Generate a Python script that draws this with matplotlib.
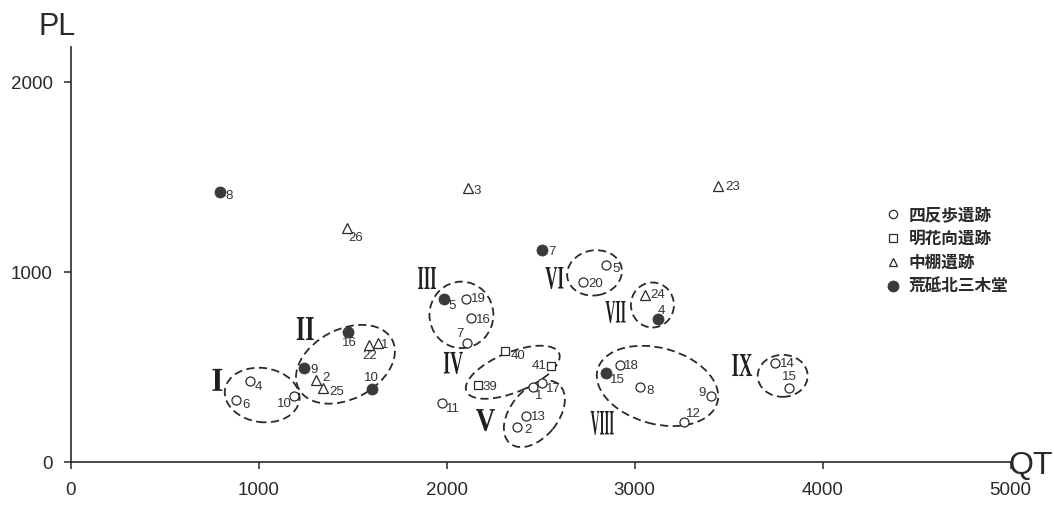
import matplotlib
matplotlib.use("Agg")
import matplotlib.pyplot as plt
import matplotlib.transforms as mtransforms
from matplotlib.patches import Ellipse, PathPatch
from matplotlib.textpath import TextPath
from matplotlib.font_manager import FontProperties
from matplotlib.lines import Line2D

# ---------------- data ----------------
# 四反歩遺跡 (open circles)
sh_no = [1, 2, 4, 5, 6, 7, 8, 9, 10, 11, 12, 13, 14, 15, 16, 17, 18, 19, 20]
sh_qt = [2460, 2374, 954, 2845, 878, 2108, 3026, 3407, 1185, 1973, 3261, 2424, 3744, 3821, 2129, 2509, 2921, 2104, 2726]
sh_pl = [398, 187, 428, 1038, 328, 630, 398, 351, 349, 311, 214, 245, 521, 393, 758, 416, 512, 858, 951]

# 明花向遺跡 (open squares)
mh_no = [39, 40, 41]
mh_qt = [2165, 2310, 2555]
mh_pl = [407, 587, 507]

# 中棚遺跡 (open triangles)
nt_no = [1, 2, 3, 22, 23, 24, 25, 26]
nt_qt = [1632, 1302, 2111, 1586, 3441, 3052, 1344, 1469]
nt_pl = [626, 432, 1444, 616, 1454, 881, 389, 1235]

# 荒砥北三木堂 (filled circles)
ar_no = [4, 5, 7, 8, 9, 10, 15, 16]
ar_qt = [3123, 1984, 2504, 794, 1243, 1602, 2845, 1476]
ar_pl = [753, 858, 1117, 1421, 495, 384, 468, 684]

legend_labels = ["四反歩遺跡", "明花向遺跡", "中棚遺跡", "荒砥北三木堂"]

# cluster groups: name, centre (QT, PL), width, height, angle
grp_names = ["I", "II", "III", "IV", "V", "VI", "VII", "VIII", "IX"]
grp_centre = [(1018, 354), (1461, 516), (2078, 776), (2351, 474), (2466, 255),
              (2786, 997), (3094, 828), (3121, 402), (3787, 455)]
grp_w = [400, 560, 340, 532, 405, 293, 229, 660, 266]
grp_h = [285, 368, 350, 211, 253, 237, 237, 400, 221]
grp_ang = [-8, 27, 0, 22, 50, 10, 0, -15, 0]
grp_label_pos = [(780, 434), (1247, 704), (1895, 970), (2035, 523), (2206, 222),
                 (2573, 970), (2898, 791), (2827, 207), (3572, 512)]

x_ticks = [0, 1000, 2000, 3000, 4000, 5000]
y_ticks = [0, 1000, 2000]

# label offsets (pixels) for point numbers
sh_off = {1: (5, -9), 2: (11, -3), 4: (8, -6), 5: (10, -4), 6: (10, -5), 7: (-7, 9), 8: (10, -4),
          9: (-9, 3), 10: (-9, -8), 11: (11, -6), 12: (10, 8), 13: (12, -1), 14: (13, -1),
          15: (0, 11), 16: (12, -2), 17: (11, -6), 18: (12, -1), 19: (12, 0), 20: (12, -2)}
mh_off = {39: (12, -2), 40: (13, -5), 41: (-12, 0)}
nt_off = {1: (7, -2), 2: (10, 2), 3: (10, -3), 22: (1, -11), 23: (15, -1), 24: (13, 0),
          25: (13, -4), 26: (9, -10)}
ar_off = {4: (4, 8), 5: (8, -7), 7: (10, -2), 8: (9, -4), 9: (10, -2), 10: (-1, 11),
          15: (12, -7), 16: (1, -11)}
roman_w = [10, 17, 18, 19, 19, 18, 20, 23, 20]
roman_h = [22, 23, 22, 22, 22, 22, 22, 24, 22]

# ---------------- figure ----------------
INK = "#2a2a2a"
fig = plt.figure(figsize=(10.54, 5.05), dpi=100)
ax = fig.add_axes([70.8 / 1054, 42.7 / 505, (1010.7 - 70.8) / 1054, 415.5 / 505])
ax.set_xlim(0, 5000)
ax.set_ylim(0, 2187)
for s in ["top", "right"]:
    ax.spines[s].set_visible(False)
for s in ["left", "bottom"]:
    ax.spines[s].set_linewidth(1.2)
    ax.spines[s].set_color(INK)
ax.set_xticks(x_ticks)
ax.set_yticks(y_ticks)
ax.tick_params(axis="both", direction="out", length=5, width=1.1, color=INK,
               labelsize=13.5, labelcolor=INK)
ax.tick_params(axis="x", pad=9)
ax.tick_params(axis="y", pad=8)
for lab in ax.get_xticklabels() + ax.get_yticklabels():
    lab.set_family("Liberation Sans")

ax.text(-0.015, 1.048, "PL", transform=ax.transAxes, fontsize=22, family="Liberation Sans",
        color=INK, ha="center", va="center")
ax.text(1.0 + 20 / 940, 0.0 - 4 / 415, "QT", transform=ax.transAxes, fontsize=23,
        family="Liberation Sans", color=INK, ha="center", va="center", clip_on=False)

lab_font = dict(fontsize=9.5, family="Liberation Sans", color="#333333", ha="center", va="center")

h1, = ax.plot(sh_qt, sh_pl, "o", ms=6.5, mfc="white", mec=INK, mew=0.9, zorder=4)
h2, = ax.plot(mh_qt, mh_pl, "s", ms=6.0, mfc="white", mec=INK, mew=0.9, zorder=4)
h3, = ax.plot(nt_qt, nt_pl, "^", ms=7.0, mfc="white", mec=INK, mew=0.9, zorder=4)
h4, = ax.plot(ar_qt, ar_pl, "o", ms=8.0, mfc="#3a3a3a", mec="#3a3a3a", mew=0.5, zorder=4)

for nos, qts, pls, off in [(sh_no, sh_qt, sh_pl, sh_off), (mh_no, mh_qt, mh_pl, mh_off),
                           (nt_no, nt_qt, nt_pl, nt_off), (ar_no, ar_qt, ar_pl, ar_off)]:
    for n, q, p in zip(nos, qts, pls):
        ax.annotate(str(n), (q, p), xytext=off[n], textcoords="offset pixels", **lab_font)

for c, w, h, a in zip(grp_centre, grp_w, grp_h, grp_ang):
    e = Ellipse(c, w, h, angle=a, fill=False, edgecolor=INK, lw=1.3,
                linestyle=(0, (4.5, 2.5)), zorder=3)
    ax.add_patch(e)

# Roman numerals: condensed bold serif glyphs drawn as paths
fp = FontProperties(family="Liberation Serif", weight="bold")
for name, pos, wpx, hpx in zip(grp_names, grp_label_pos, roman_w, roman_h):
    tp = TextPath((0, 0), name, size=100, prop=fp)
    bb = tp.get_extents()
    px, py = ax.transData.transform(pos)
    tr = (mtransforms.Affine2D()
          .translate(-(bb.x0 + bb.width / 2), -(bb.y0 + bb.height / 2))
          .scale(wpx / bb.width, hpx / bb.height)
          .translate(px, py))
    fig.add_artist(PathPatch(tp, transform=tr, facecolor="#1e1e1e", edgecolor="none"))

# legend
leg_h = [Line2D([], [], ls="none", marker="o", ms=6, mfc="white", mec=INK, mew=0.9),
         Line2D([], [], ls="none", marker="s", ms=5.5, mfc="white", mec=INK, mew=0.9),
         Line2D([], [], ls="none", marker="^", ms=6, mfc="white", mec=INK, mew=0.9),
         Line2D([], [], ls="none", marker="o", ms=7.5, mfc="#3a3a3a", mec="#3a3a3a")]
leg = ax.legend(leg_h, legend_labels, loc="upper left",
                bbox_to_anchor=(886 / 1054, 1 - 206 / 505), bbox_transform=fig.transFigure,
                frameon=False, handlelength=0.8, handletextpad=0.55, labelspacing=0.35,
                borderpad=0, borderaxespad=0,
                prop=FontProperties(family=["Noto Sans CJK JP", "DejaVu Sans"], size=12, weight="bold"))
for t in leg.get_texts():
    t.set_color(INK)

fig.savefig("out.png", dpi=100)
